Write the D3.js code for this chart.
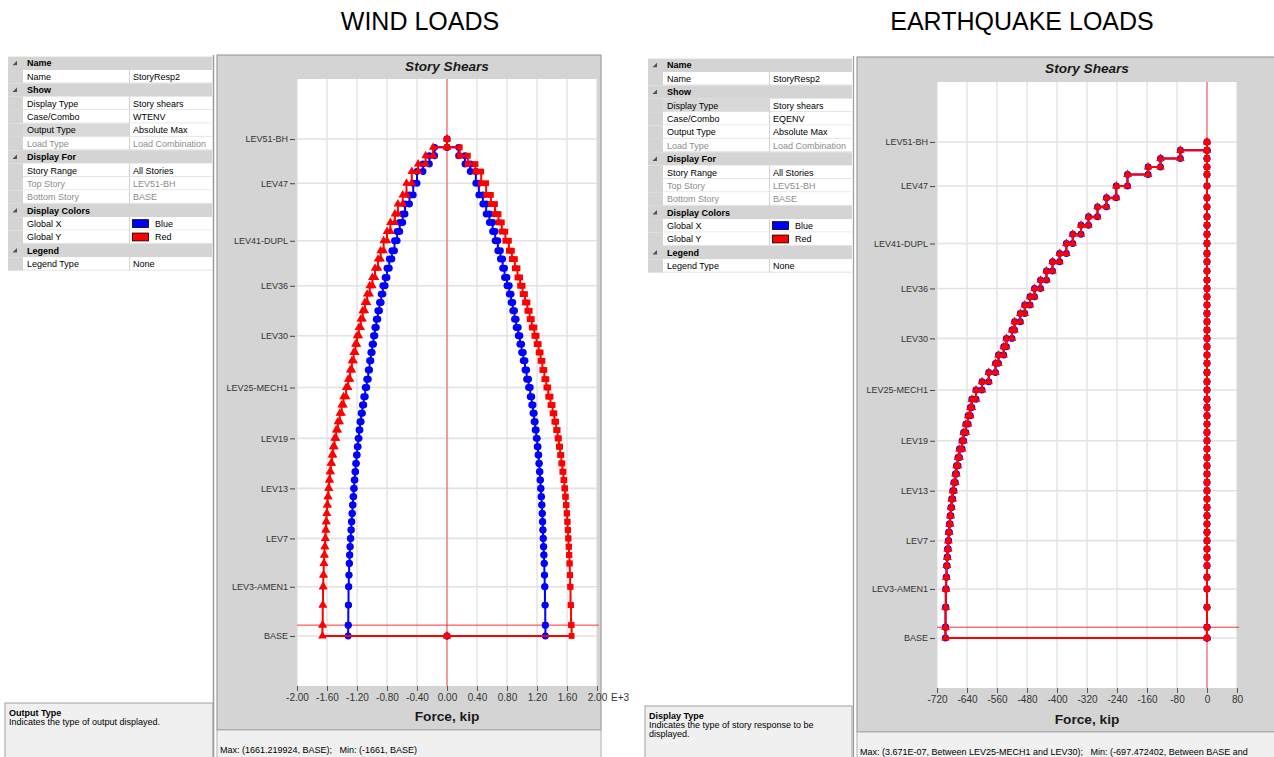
<!DOCTYPE html>
<html>
<head>
<meta charset="utf-8">
<script src="https://cdn.jsdelivr.net/npm/d3@7"></script>
<style>
  body { margin: 0; background: #ffffff; }
  text { font-family: "Liberation Sans", Arial, sans-serif; }
</style>
</head>
<body>
<script>
// ---- story levels, top to bottom (the story of a level spans down to the next one)
const storyLevels = ["LEV51-BH", "LEV51", "LEV50", "LEV49", "LEV48", "LEV47", "LEV46", "LEV45", "LEV44", "LEV43",
    "LEV42", "LEV41-DUPL", "LEV40", "LEV39", "LEV38", "LEV37", "LEV36", "LEV35", "LEV34", "LEV33",
    "LEV32", "LEV31", "LEV30", "LEV29", "LEV28", "LEV27", "LEV26", "LEV25-MECH2", "LEV25-MECH1", "LEV24",
    "LEV23", "LEV22", "LEV21", "LEV20", "LEV19", "LEV18", "LEV17", "LEV16", "LEV15", "LEV14",
    "LEV13", "LEV12", "LEV11", "LEV10", "LEV9", "LEV8", "LEV7", "LEV6", "LEV5", "LEV4",
    "LEV3-AMEN2", "LEV3-AMEN1", "LEV2", "LEV1", "BASE"];

// level elevations, ft
const storyElev = [596, 586, 576, 566, 557, 543, 529, 518, 506, 496,
    485, 474, 462, 452, 441, 430, 420, 410, 400, 390,
    380, 370, 360, 350, 340, 330, 319, 308, 298, 287,
    277, 267, 257, 247, 237, 227, 217, 207, 197, 187,
    177, 167, 157, 147, 137, 127, 117, 107, 97, 87,
    73, 59, 37, 13, 0];

// labels shown on the story axis
const labeledStories = ["LEV51-BH", "LEV47", "LEV41-DUPL", "LEV36", "LEV30", "LEV25-MECH1",
    "LEV19", "LEV13", "LEV7", "LEV3-AMEN1", "BASE"];
const groundStory = "LEV1";

// ---- WIND (WTENV) story shears, kip, one per story (LEV51-BH ... LEV1)
const windXMin = [0, -165, -235, -320, -400, -450, -500, -560, -590, -630,
    -665, -700, -735, -770, -800, -825, -855, -878, -900, -922,
    -943, -962, -980, -998, -1015, -1032, -1050, -1070, -1090, -1110,
    -1128, -1145, -1160, -1173, -1185, -1197, -1208, -1218, -1228, -1237,
    -1245, -1253, -1261, -1268, -1275, -1282, -1289, -1295, -1300, -1305,
    -1309, -1313, -1316, -1318];
const windXMax = [0, 155, 240, 310, 385, 425, 478, 522, 565, 608,
    642, 678, 712, 742, 767, 800, 830, 855, 877, 900,
    922, 950, 972, 995, 1017, 1040, 1062, 1088, 1110, 1130,
    1147, 1162, 1176, 1190, 1203, 1214, 1224, 1232, 1240, 1247,
    1254, 1261, 1267, 1272, 1277, 1281, 1285, 1290, 1294, 1298,
    1302, 1306, 1310, 1312];
const windYMin = [0, -185, -285, -385, -470, -540, -590, -655, -695, -755,
    -800, -845, -885, -920, -960, -995, -1030, -1065, -1095, -1125,
    -1150, -1175, -1200, -1222, -1245, -1268, -1292, -1318, -1345, -1380,
    -1405, -1430, -1455, -1478, -1500, -1518, -1535, -1550, -1562, -1572,
    -1582, -1591, -1599, -1606, -1613, -1619, -1625, -1632, -1638, -1644,
    -1649, -1653, -1657, -1661];
const windYMax = [0, 170, 278, 380, 456, 522, 585, 640, 687, 731,
    778, 825, 865, 905, 940, 975, 1008, 1040, 1072, 1102,
    1130, 1165, 1195, 1222, 1248, 1272, 1298, 1325, 1350, 1380,
    1408, 1432, 1455, 1475, 1492, 1508, 1524, 1538, 1552, 1564,
    1575, 1585, 1594, 1602, 1609, 1615, 1621, 1627, 1632, 1637,
    1642, 1647, 1654, 1661.22];

// ---- EARTHQUAKE (EQENV) story shears, kip
const eqXMin = [0, -71, -124, -157, -212, -242, -268, -292, -316, -336,
    -358, -375, -393, -412, -428, -444, -460, -472, -486, -498,
    -513, -520, -535, -542, -556, -564, -582, -600, -616, -627,
    -631, -637, -643, -649, -653, -660, -664, -668, -671, -675,
    -678, -681, -683, -685, -687, -689, -690, -692, -693, -694.5,
    -695.5, -696.5, -697.2, -697.47];
const eqXMax = [0, 0, 0, 0, 0, 0, 0, 0, 0, 0, 0, 0, 0, 0, 0, 0, 0, 0, 0, 0, 0, 0, 0, 0, 0, 0, 0,
    0, 0, 0, 0, 0, 0, 0, 0, 0, 0, 0, 0, 0, 0, 0, 0, 0, 0, 0, 0, 0, 0, 0, 0, 0, 0, 0];
const eqYMin = [0, -71, -124, -157, -212, -242, -268, -292, -316, -336,
    -358, -375, -393, -412, -428, -444, -460, -472, -486, -498,
    -513, -520, -535, -542, -556, -564, -582, -600, -616, -627,
    -631, -637, -643, -649, -653, -660, -664, -668, -671, -675,
    -678, -681, -683, -685, -687, -689, -690, -692, -693, -694.5,
    -695.5, -696.5, -697.2, -697.47];
const eqYMax = [0, 0, 0, 0, 0, 0, 0, 0, 0, 0, 0, 0, 0, 0, 0, 0, 0, 0, 0, 0, 0, 0, 0, 0, 0, 0, 0,
    0, 0, 0, 0, 0, 0, 0, 0, 0, 0, 0, 0, 0, 0, 0, 0, 0, 0, 0, 0, 0, 0, 0, 0, 0, 0, 0];

// ---- axis ticks
const windTicks = [-2000, -1600, -1200, -800, -400, 0, 400, 800, 1200, 1600, 2000];
const eqTicks = [-720, -640, -560, -480, -400, -320, -240, -160, -80, 0, 80];

// ---- property grid contents
const windProps = [
    ["group", "Name"], ["item", "Name", "StoryResp2"],
    ["group", "Show"], ["item", "Display Type", "Story shears"], ["item", "Case/Combo", "WTENV"],
    ["item", "Output Type", "Absolute Max"], ["off", "Load Type", "Load Combination"],
    ["group", "Display For"], ["item", "Story Range", "All Stories"], ["off", "Top Story", "LEV51-BH"],
    ["off", "Bottom Story", "BASE"],
    ["group", "Display Colors"], ["color", "Global X", "Blue"], ["color", "Global Y", "Red"],
    ["group", "Legend"], ["item", "Legend Type", "None"]];
const eqProps = [
    ["group", "Name"], ["item", "Name", "StoryResp2"],
    ["group", "Show"], ["item", "Display Type", "Story shears"], ["item", "Case/Combo", "EQENV"],
    ["item", "Output Type", "Absolute Max"], ["off", "Load Type", "Load Combination"],
    ["group", "Display For"], ["item", "Story Range", "All Stories"], ["off", "Top Story", "LEV51-BH"],
    ["off", "Bottom Story", "BASE"],
    ["group", "Display Colors"], ["color", "Global X", "Blue"], ["color", "Global Y", "Red"],
    ["group", "Legend"], ["item", "Legend Type", "None"]];

(function () {
    const svg = d3.select("body").append("svg")
        .attr("width", 1274)
        .attr("height", 757)
        .style("display", "block");

    svg.append("rect").attr("width", 1274).attr("height", 757).attr("fill", "#ffffff");

    // 1. PAGE HEADINGS
    svg.append("text").attr("x", 420).attr("y", 30).attr("text-anchor", "middle")
        .attr("font-size", "25px").attr("fill", "#000").text("WIND LOADS");
    svg.append("text").attr("x", 1022).attr("y", 30).attr("text-anchor", "middle")
        .attr("font-size", "25px").attr("fill", "#000").text("EARTHQUAKE LOADS");

    const swatch = { Blue: "#0000ff", Red: "#ff0000" };

    // 2. PROPERTY GRID PANEL
    function drawPanel(x0, y0, rows, selected, help) {
        const g = svg.append("g");
        const rowH = 13.38, marginW = 15, nameW = 107, valueW = 82;
        const totalW = marginW + nameW + valueW;

        rows.forEach((r, i) => {
            const ry = y0 + i * rowH;
            const cy = ry + rowH / 2 + 3.2;
            if (r[0] === "group") {
                g.append("rect").attr("x", x0).attr("y", ry).attr("width", totalW).attr("height", rowH)
                    .attr("fill", "#d4d4d4");
                // expander glyph
                const gx = x0 + 9, gy = ry + rowH / 2;
                g.append("path").attr("d", `M${gx},${gy - 2.5}L${gx},${gy + 2}L${gx - 4.5},${gy + 2}Z`)
                    .attr("fill", "#505050");
                g.append("text").attr("x", x0 + 19).attr("y", cy).attr("font-size", "9px")
                    .attr("font-weight", "bold").attr("fill", "#000").text(r[1]);
                return;
            }
            g.append("rect").attr("x", x0).attr("y", ry).attr("width", marginW).attr("height", rowH)
                .attr("fill", "#d4d4d4");
            g.append("rect").attr("x", x0 + marginW).attr("y", ry).attr("width", nameW).attr("height", rowH)
                .attr("fill", r[1] === selected ? "#d9d9d9" : "#ffffff");
            g.append("rect").attr("x", x0 + marginW + nameW).attr("y", ry).attr("width", valueW).attr("height", rowH)
                .attr("fill", "#ffffff");
            g.append("line").attr("x1", x0 + marginW).attr("x2", x0 + totalW)
                .attr("y1", ry + rowH - 0.5).attr("y2", ry + rowH - 0.5).attr("stroke", "#e3e3e3");
            g.append("line").attr("x1", x0 + marginW + nameW - 0.5).attr("x2", x0 + marginW + nameW - 0.5)
                .attr("y1", ry).attr("y2", ry + rowH).attr("stroke", "#d4d4d4");

            const txtColor = r[0] === "off" ? "#8d8d8d" : "#000";
            g.append("text").attr("x", x0 + marginW + 4).attr("y", cy).attr("font-size", "9px")
                .attr("fill", txtColor).text(r[1]);
            if (r[0] === "color") {
                g.append("rect").attr("x", x0 + marginW + nameW + 2.5).attr("y", ry + 2.5)
                    .attr("width", 16).attr("height", rowH - 5.5)
                    .attr("fill", swatch[r[2]]).attr("stroke", "#000").attr("stroke-width", 0.8);
                g.append("text").attr("x", x0 + marginW + nameW + 25).attr("y", cy).attr("font-size", "9px")
                    .attr("fill", "#000").text(r[2]);
            } else {
                g.append("text").attr("x", x0 + marginW + nameW + 3).attr("y", cy).attr("font-size", "9px")
                    .attr("fill", txtColor).text(r[2]);
            }
        });

        // help box at the bottom
        g.append("rect").attr("x", help.x).attr("y", help.y).attr("width", help.w).attr("height", 757 - help.y + 2)
            .attr("fill", "#f0f0f0").attr("stroke", "#a0a0a0");
        g.append("text").attr("x", help.x + 4).attr("y", help.y + 13).attr("font-size", "9px")
            .attr("font-weight", "bold").attr("fill", "#000").text(help.title);
        help.lines.forEach((t, i) => {
            g.append("text").attr("x", help.x + 4).attr("y", help.y + 22 + i * 9).attr("font-size", "9px")
                .attr("fill", "#000").text(t);
        });
    }

    drawPanel(8, 56.6, windProps, "Output Type",
        { x: 5, y: 703, w: 208, title: "Output Type", lines: ["Indicates the type of output displayed."] });
    drawPanel(648, 58.6, eqProps, "Display Type",
        { x: 645, y: 706, w: 207, title: "Display Type", lines: ["Indicates the type of story response to be", "displayed."] });

    // splitter lines
    svg.append("line").attr("x1", 213.5).attr("x2", 213.5).attr("y1", 55).attr("y2", 757)
        .attr("stroke", "#9a9a9a").attr("stroke-width", 1.5);
    svg.append("line").attr("x1", 853.5).attr("x2", 853.5).attr("y1", 56).attr("y2", 757)
        .attr("stroke", "#9a9a9a").attr("stroke-width", 1.2);

    // 3. STORY SHEAR CHART
    function stepPoints(values) {
        const pts = [];
        values.forEach((v, i) => {
            pts.push([v, storyElev[i]]);
            pts.push([v, storyElev[i + 1]]);
        });
        pts.push([0, storyElev[storyElev.length - 1]]);
        return pts;
    }
    const elevOf = name => storyElev[storyLevels.indexOf(name)];

    function drawChart(cfg) {
        const g = svg.append("g");
        const p = cfg.plot;

        // frame + status bar
        g.append("rect").attr("x", cfg.frame.x).attr("y", cfg.frame.y)
            .attr("width", cfg.frame.w).attr("height", cfg.frame.h)
            .attr("fill", "#d4d4d4").attr("stroke", "#8e8e8e");
        g.append("rect").attr("x", cfg.frame.x).attr("y", cfg.frame.y + cfg.frame.h)
            .attr("width", cfg.frame.w).attr("height", 757 - cfg.frame.y - cfg.frame.h + 2)
            .attr("fill", "#f0f0f0").attr("stroke", "#b0b0b0");
        g.append("text").attr("x", cfg.frame.x + 3).attr("y", cfg.statusY)
            .attr("font-size", "9px").attr("fill", "#000").style("white-space", "pre")
            .text(cfg.status);

        // scales
        const x = d3.scaleLinear().domain(cfg.xDomain).range([p.x, p.x + p.w]);
        const y = d3.scaleLinear().domain([-60, 668]).range([p.y + p.h, p.y]);

        g.append("rect").attr("x", p.x).attr("y", p.y).attr("width", p.w).attr("height", p.h)
            .attr("fill", "#ffffff");

        // title
        g.append("text").attr("x", p.x + p.w / 2).attr("y", cfg.titleY).attr("text-anchor", "middle")
            .attr("font-size", "13.6px").attr("font-weight", "bold").attr("font-style", "italic")
            .attr("fill", "#1a1a1a").text("Story Shears");

        // grid
        g.selectAll(".vgrid").data(cfg.ticks).join("line")
            .attr("x1", d => x(d)).attr("x2", d => x(d))
            .attr("y1", p.y).attr("y2", p.y + p.h)
            .attr("stroke", "#d6d6d6").attr("stroke-width", 1);
        g.selectAll(".hgrid").data(labeledStories).join("line")
            .attr("x1", p.x).attr("x2", p.x + p.w)
            .attr("y1", d => y(elevOf(d))).attr("y2", d => y(elevOf(d)))
            .attr("stroke", "#e2e2e2").attr("stroke-width", 1.6);

        // axes
        const xAxis = d3.axisBottom(x).tickValues(cfg.ticks).tickSize(5).tickPadding(3)
            .tickFormat(cfg.tickFormat);
        const xg = g.append("g").attr("transform", `translate(0, ${p.y + p.h})`).call(xAxis);
        xg.select(".domain").remove();
        xg.selectAll("line").attr("stroke", "#555");
        xg.selectAll("text").attr("font-size", "10px").attr("fill", "#333")
            .attr("font-family", "Liberation Sans, Arial, sans-serif");
        if (cfg.exponent) {
            g.append("text").attr("x", x(cfg.ticks[cfg.ticks.length - 1]) + 14).attr("y", p.y + p.h + 15.1)
                .attr("font-size", "10px").attr("fill", "#333").text(cfg.exponent);
        }

        const yAxis = d3.axisLeft(y).tickValues(labeledStories.map(elevOf))
            .tickFormat((d, i) => labeledStories[i]).tickSize(5).tickPadding(2);
        const yg = g.append("g").attr("transform", `translate(${p.x - 2}, 0)`).call(yAxis);
        yg.select(".domain").remove();
        yg.selectAll("line").attr("stroke", "#444");
        yg.selectAll("text").attr("font-size", "9px").attr("fill", "#333")
            .attr("font-family", "Liberation Sans, Arial, sans-serif");

        g.append("text").attr("x", p.x + p.w / 2).attr("y", cfg.xLabelY).attr("text-anchor", "middle")
            .attr("font-size", "13.7px").attr("font-weight", "bold").attr("fill", "#1a1a1a")
            .text("Force, kip");

        // reference lines: zero force and ground story
        g.append("line").attr("x1", x(0)).attr("x2", x(0)).attr("y1", p.y).attr("y2", p.y + p.h)
            .attr("stroke", "#ff4a4a").attr("stroke-width", 1);
        const yg0 = y(elevOf(groundStory));
        g.append("line").attr("x1", p.x).attr("x2", p.x + p.w + 2).attr("y1", yg0).attr("y2", yg0)
            .attr("stroke", "#ff3030").attr("stroke-width", 1);

        // series
        const line = d3.line().x(d => x(d[0])).y(d => y(d[1]));
        cfg.series.forEach(s => {
            const pts = stepPoints(s.values);
            g.append("path").attr("d", line(pts)).attr("fill", "none")
                .attr("stroke", s.color).attr("stroke-width", 2);
            g.append("g").selectAll("path").data(pts).join("path")
                .attr("transform", d => `translate(${x(d[0])}, ${y(d[1])})`)
                .attr("d", d3.symbol().type(s.shape).size(s.size))
                .attr("fill", s.color);
        });
    }

    drawChart({
        frame: { x: 217, y: 55, w: 384, h: 675 },
        plot: { x: 297, y: 79, w: 300, h: 607 },
        xDomain: [-2000, 2000],
        ticks: windTicks,
        tickFormat: d => (d / 1000).toFixed(2),
        exponent: "E+3",
        titleY: 70.5,
        xLabelY: 721,
        statusY: 752.5,
        status: "Max: (1661.219924, BASE);   Min: (-1661, BASE)",
        series: [
            { values: windXMin, color: "#0000ff", shape: d3.symbolCircle, size: 38 },
            { values: windXMax, color: "#0000ff", shape: d3.symbolCircle, size: 38 },
            { values: windYMin, color: "#ff0000", shape: d3.symbolTriangle, size: 32 },
            { values: windYMax, color: "#ff0000", shape: d3.symbolSquare, size: 34 }
        ]
    });

    drawChart({
        frame: { x: 857, y: 57, w: 420, h: 675 },
        plot: { x: 937, y: 82, w: 300, h: 606 },
        xDomain: [-720, 80],
        ticks: eqTicks,
        tickFormat: d => String(d),
        exponent: null,
        titleY: 73,
        xLabelY: 724,
        statusY: 755,
        status: "Max: (3.671E-07, Between LEV25-MECH1 and LEV30);   Min: (-697.472402, Between BASE and",
        series: [
            { values: eqXMin, color: "#0000ff", shape: d3.symbolCircle, size: 38 },
            { values: eqXMax, color: "#0000ff", shape: d3.symbolCircle, size: 38 },
            { values: eqYMin, color: "#ff0000", shape: d3.symbolTriangle, size: 32 },
            { values: eqYMax, color: "#ff0000", shape: d3.symbolSquare, size: 34 }
        ]
    });
})();
</script>
</body>
</html>
